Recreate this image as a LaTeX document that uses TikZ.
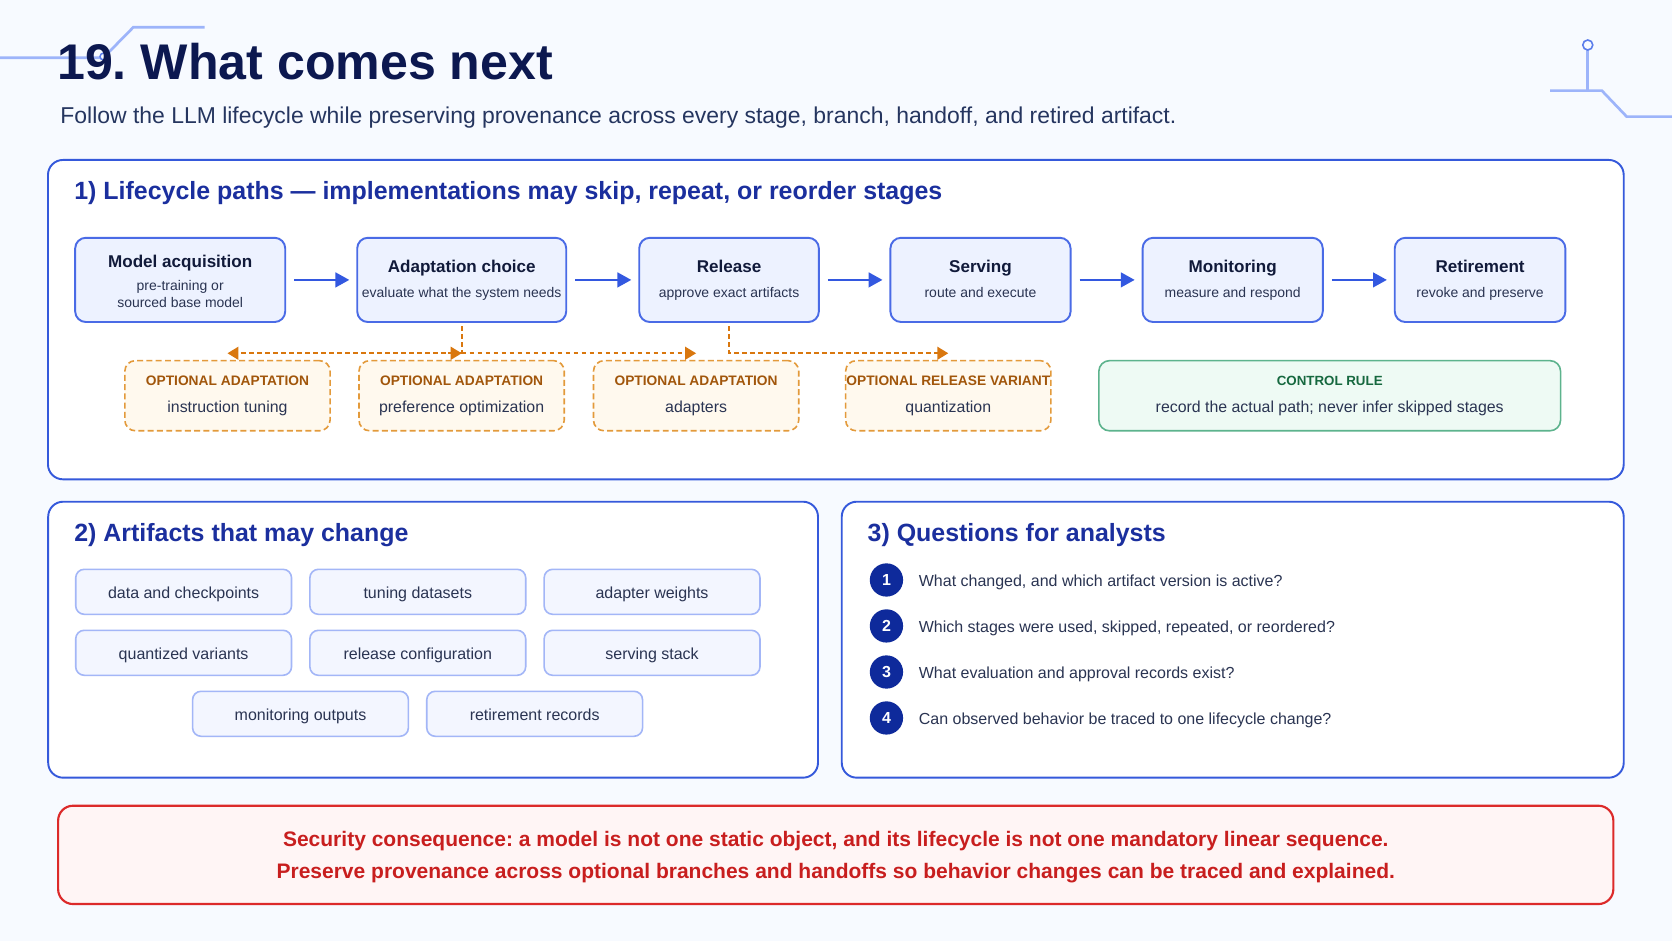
\documentclass[tikz,border=0pt]{standalone}
\usepackage{fontspec}
\setmainfont{Liberation Sans}
\usetikzlibrary{arrows.meta}
\frenchspacing

\definecolor{bg}{HTML}{F7FAFF}
\definecolor{deco}{HTML}{9DB4FA}
\definecolor{decodark}{HTML}{5B7DEB}
\definecolor{titlec}{HTML}{0C1850}
\definecolor{subc}{HTML}{25355F}
\definecolor{panelb}{HTML}{3559DB}
\definecolor{headc}{HTML}{1B2F9E}
\definecolor{stagefill}{HTML}{EDF2FF}
\definecolor{stageb}{HTML}{4A6BE6}
\definecolor{arrowc}{HTML}{3358E0}
\definecolor{ink}{HTML}{111A3A}
\definecolor{bodyc}{HTML}{2A3452}
\definecolor{optfill}{HTML}{FFF9EE}
\definecolor{optb}{HTML}{E39A3B}
\definecolor{optlab}{HTML}{A1560B}
\definecolor{orangec}{HTML}{D9770E}
\definecolor{ctrlfill}{HTML}{EEFAF4}
\definecolor{ctrlb}{HTML}{5DB38D}
\definecolor{ctrllab}{HTML}{16683F}
\definecolor{chipfill}{HTML}{F3F6FF}
\definecolor{chipb}{HTML}{A3B6F7}
\definecolor{numc}{HTML}{0E2A9B}
\definecolor{redfill}{HTML}{FFF5F5}
\definecolor{redb}{HTML}{DC2A2A}
\definecolor{redtext}{HTML}{C81E1E}

\newcommand{\setfs}[1]{\fontsize{#1}{#1}\selectfont}

\begin{document}
\begin{tikzpicture}[x=1pt,y=-1pt,
  decoline/.style={draw=deco,line width=2.5pt},
  panelbox/.style={draw=panelb,line width=1.8pt,fill=white,rounded corners=14pt},
  stagebox/.style={draw=stageb,line width=1.8pt,fill=stagefill,rounded corners=10pt,minimum height=79pt,inner sep=0pt},
  stitle/.style={anchor=base,inner sep=0pt,text=ink,font=\bfseries\setfs{16}},
  ssub/.style={anchor=base,inner sep=0pt,text=bodyc,font=\setfs{13.1}},
  flow/.style={draw=arrowc,line width=2.3pt,-{Triangle[length=13pt,width=13.7pt]},shorten <=7.5pt,shorten >=6.5pt},
  optbox/.style={draw=optb,line width=1.5pt,dash pattern=on 5.6pt off 3.1pt,fill=optfill,rounded corners=10pt,minimum width=192.5pt,minimum height=65.8pt,inner sep=0pt},
  optlabel/.style={anchor=base,inner sep=0pt,text=optlab,font=\bfseries\setfs{12.9}},
  opttext/.style={anchor=base,inner sep=0pt,text=bodyc,font=\setfs{14.9}},
  optline/.style={draw=orangec,line width=1.8pt,dash pattern=on 4.4pt off 3.1pt},
  opttip/.style={-{Triangle[length=10.3pt,width=12pt]}},
  ctrlbox/.style={draw=ctrlb,line width=1.5pt,fill=ctrlfill,rounded corners=10pt,minimum width=433pt,minimum height=65.8pt,inner sep=0pt},
  heading/.style={anchor=base west,inner sep=0pt,text=headc,font=\bfseries\setfs{23.4}},
  chip/.style={draw=chipb,line width=1.5pt,fill=chipfill,rounded corners=8pt,minimum width=202.4pt,minimum height=42.2pt,inner sep=0pt,text height=12.5pt,text depth=0pt,text=bodyc,font=\setfs{15}},
  numdot/.style={circle,fill=numc,minimum size=31.2pt,inner sep=0pt,text=white,font=\bfseries\setfs{15}},
  qtext/.style={anchor=base west,inner sep=0pt,text=bodyc,font=\setfs{15}},
  redline/.style={anchor=base,inner sep=0pt,text=redtext,font=\bfseries\setfs{19.7}}
]
% background and bounding box
\fill[bg] (0,0) rectangle (1568,882.4);
\useasboundingbox (0,0) rectangle (1568,882.4);

% decorations
\draw[decoline] (0,54.1) -- (97,54.1) -- (125,25.6) -- (191.8,25.6);
\draw[draw=decodark,line width=1.4pt,fill=bg] (97,53) circle (3.2pt);
\draw[decoline] (1489,47) -- (1489,85);
\draw[decoline] (1453.6,85) -- (1502.2,85) -- (1525.5,109.4) -- (1568,109.4);
\draw[draw=decodark,line width=1.5pt,fill=bg] (1489,42.2) circle (4.7pt);

% title
\node[anchor=base west,inner sep=0pt,text=titlec,font=\bfseries\setfs{47}] (title) at (53.5,74.6) {19. What comes next};
\node[anchor=base west,inner sep=0pt,text=subc,font=\setfs{21.5}] (subtitle) at (56.5,116.2) {Follow the LLM lifecycle while preserving provenance across every stage, branch, handoff, and retired artifact.};

% panel 1
\draw[panelbox] (45,150) rectangle (1522.7,449.5);
\node[heading] (h1) at (69.5,187) {1) Lifecycle paths — implementations may skip, repeat, or reorder stages};

\node[stagebox,minimum width=197pt] (s1) at (169,262.5) {};
\node[stagebox,minimum width=196pt] (s2) at (433,262.5) {};
\node[stagebox,minimum width=168.5pt] (s3) at (683.7,262.5) {};
\node[stagebox,minimum width=169pt] (s4) at (919.5,262.5) {};
\node[stagebox,minimum width=169pt] (s5) at (1156,262.5) {};
\node[stagebox,minimum width=160pt] (s6) at (1388,262.5) {};

\node[stitle] (s1a) at (169,251.3) {Model acquisition};
\node[ssub] (s1b) at (169,272.5) {pre-training or};
\node[ssub] (s1c) at (169,288.5) {sourced base model};
\node[stitle] (s2a) at (433,256) {Adaptation choice};
\node[ssub] (s2b) at (433,279.2) {evaluate what the system needs};
\node[stitle] (s3a) at (683.7,256) {Release};
\node[ssub] (s3b) at (683.7,279.2) {approve exact artifacts};
\node[stitle] (s4a) at (919.5,256) {Serving};
\node[ssub] (s4b) at (919.5,279.2) {route and execute};
\node[stitle] (s5a) at (1156,256) {Monitoring};
\node[ssub] (s5b) at (1156,279.2) {measure and respond};
\node[stitle] (s6a) at (1388,256) {Retirement};
\node[ssub] (s6b) at (1388,279.2) {revoke and preserve};

\draw[flow] (s1) -- (s2);
\draw[flow] (s2) -- (s3);
\draw[flow] (s3) -- (s4);
\draw[flow] (s4) -- (s5);
\draw[flow] (s5) -- (s6);

% optional boxes
\node[optbox] (o1) at (213.3,371.1) {};
\node[optbox] (o2) at (432.9,371.1) {};
\node[optbox] (o3) at (652.8,371.1) {};
\node[optbox] (o4) at (889.3,371.1) {};
\node[ctrlbox] (cr) at (1247,371.1) {};

\node[optlabel] (o1a) at (213.3,361.8) {OPTIONAL ADAPTATION};
\node[opttext] (o1b) at (213.3,386.8) {instruction tuning};
\node[optlabel] (o2a) at (432.9,361.8) {OPTIONAL ADAPTATION};
\node[opttext] (o2b) at (432.9,386.8) {preference optimization};
\node[optlabel] (o3a) at (652.8,361.8) {OPTIONAL ADAPTATION};
\node[opttext] (o3b) at (652.8,386.8) {adapters};
\node[optlabel] (o4a) at (889.3,361.8) {OPTIONAL RELEASE VARIANT};
\node[opttext] (o4b) at (889.3,386.8) {quantization};
\node[anchor=base,inner sep=0pt,text=ctrllab,font=\bfseries\setfs{12.5}] (cra) at (1247,361.8) {CONTROL RULE};
\node[opttext] (crb) at (1247,386.8) {record the actual path; never infer skipped stages};

% dashed branch connectors
\coordinate (j1) at (433,331.3);
\coordinate (j2) at (683.7,331.3);
\coordinate (j1l) at (420,331.3);
\draw[optline,shorten <=3pt] (s2.south) -- (j1);
\draw[optline,opttip] (j1) -- (o1.north |- j1);
\draw[optline,opttip] (j1) -- (o3.north |- j1);
\draw[optline,opttip] (j1l) -- (j1);
\draw[optline,opttip,shorten <=3pt] (s3.south) -- (j2) -- (o4.north |- j2);

% panel 2
\draw[panelbox] (45.2,470.5) rectangle (767.1,729.3);
\node[heading] (h2) at (69.5,507.5) {2) Artifacts that may change};
\node[chip] (c1) at (172.2,555) {data and checkpoints};
\node[chip] (c2) at (391.8,555) {tuning datasets};
\node[chip] (c3) at (611.5,555) {adapter weights};
\node[chip] (c4) at (172.2,612.2) {quantized variants};
\node[chip] (c5) at (391.8,612.2) {release configuration};
\node[chip] (c6) at (611.5,612.2) {serving stack};
\node[chip] (c7) at (281.8,669.4) {monitoring outputs};
\node[chip] (c8) at (501.4,669.4) {retirement records};

% panel 3
\draw[panelbox] (789.4,470.5) rectangle (1522.7,729.3);
\node[heading] (h3) at (813.5,507.5) {3) Questions for analysts};
\node[numdot] (q1) at (831.3,543.9) {1};
\node[numdot] (q2) at (831.3,587) {2};
\node[numdot] (q3) at (831.3,630.2) {3};
\node[numdot] (q4) at (831.3,673.3) {4};
\node[qtext] (q1t) at (861.5,549.6) {What changed, and which artifact version is active?};
\node[qtext] (q2t) at (861.5,592.7) {Which stages were used, skipped, repeated, or reordered?};
\node[qtext] (q3t) at (861.5,635.9) {What evaluation and approval records exist?};
\node[qtext] (q4t) at (861.5,679) {Can observed behavior be traced to one lifecycle change?};

% security box
\draw[draw=redb,line width=2pt,fill=redfill,rounded corners=14pt] (54.5,755.6) rectangle (1513,847.8);
\node[redline] (r1) at (783.8,793.8) {Security consequence: a model is not one static object, and its lifecycle is not one mandatory linear sequence.};
\node[redline] (r2) at (783.8,823.5) {Preserve provenance across optional branches and handoffs so behavior changes can be traced and explained.};
\end{tikzpicture}
\end{document}
